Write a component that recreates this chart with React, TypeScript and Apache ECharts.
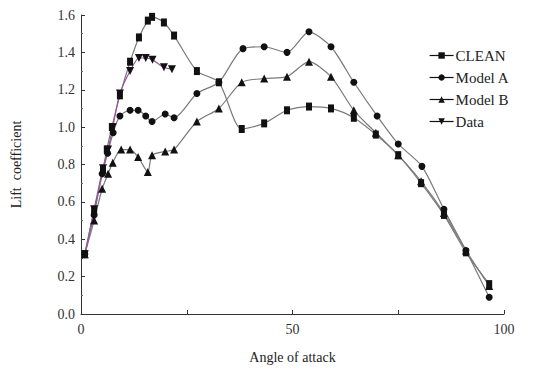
import React, { useEffect, useRef } from "react";
import * as echarts from "echarts";

const seriesNames = ["CLEAN", "Model A", "Model B", "Data"];

const cleanData: [number, number][] = [
  [0.9, 0.32], [3.1, 0.55], [5.2, 0.77], [6.1, 0.88], [7.3, 1.0], [9.2, 1.17],
  [11.6, 1.35], [13.7, 1.48], [15.8, 1.57], [16.8, 1.59], [19.6, 1.56], [22, 1.49],
  [27.4, 1.3], [32.6, 1.24], [38, 0.99], [43.3, 1.02], [48.7, 1.09], [53.9, 1.11],
  [59.1, 1.1], [64.5, 1.05], [69.7, 0.96], [75, 0.85], [80.4, 0.7], [85.8, 0.53],
  [91, 0.33], [96.5, 0.16],
];

const modelAData: [number, number][] = [
  [0.9, 0.32], [3.1, 0.53], [5, 0.75], [6.3, 0.86], [7.6, 0.97], [9.2, 1.06],
  [11.6, 1.09], [13.5, 1.09], [15.3, 1.06], [16.8, 1.03], [19.9, 1.07], [22, 1.05],
  [27.4, 1.18], [32.6, 1.24], [38.3, 1.42], [43.3, 1.43], [48.7, 1.4], [53.9, 1.51],
  [59.1, 1.43], [64.5, 1.24], [70, 1.06], [75, 0.91], [80.6, 0.79], [85.8, 0.56],
  [91, 0.34], [96.5, 0.09],
];

const modelBData: [number, number][] = [
  [0.9, 0.32], [3.1, 0.5], [5, 0.67], [6.4, 0.75], [7.5, 0.81], [9.5, 0.88],
  [11.6, 0.88], [13.5, 0.84], [15.8, 0.76], [16.8, 0.85], [19.9, 0.87], [22, 0.88],
  [27.4, 1.03], [32.6, 1.1], [38, 1.24], [43.3, 1.26], [48.7, 1.27], [53.9, 1.35],
  [59.1, 1.27], [64.5, 1.09], [69.7, 0.97], [75, 0.85], [80.4, 0.71], [85.8, 0.54],
  [91, 0.34], [96.5, 0.15],
];

const testData: [number, number][] = [
  [0.9, 0.32], [3.1, 0.56], [5.2, 0.78], [6.4, 0.88], [7.5, 1.0], [9.2, 1.18],
  [11.6, 1.3], [13.7, 1.37], [15.3, 1.37], [16.9, 1.36], [19.6, 1.32], [21.5, 1.31],
];

const xTickLabels = ["0", "50", "100"];

export default function App() {
  const ref = useRef<HTMLDivElement>(null);
  useEffect(() => {
    if (!ref.current) return;
    const chart = echarts.init(ref.current, null, { renderer: "svg" });
    const font = "'Liberation Serif', 'DejaVu Serif', serif";
    const lineGrey = "#7a7a7a";
    const mk = (name: string, data: [number, number][], symbol: string, size: number | number[], rotate = 0, lineColor = lineGrey) => ({
      name,
      type: "line",
      data,
      smooth: 0.25,
      symbol,
      symbolSize: size,
      symbolRotate: rotate,
      showSymbol: true,
      itemStyle: { color: "#111" },
      lineStyle: { color: lineColor, width: 1.2 },
      z: 3,
    });
    chart.setOption({
      animation: false,
      backgroundColor: "#fff",
      textStyle: { fontFamily: font },
      grid: { left: 81, right: 50, top: 15, bottom: 60, containLabel: false },
      legend: {
        orient: "vertical",
        left: 424,
        top: 43,
        itemWidth: 24,
        itemHeight: 8,
        itemGap: 7,
        data: seriesNames,
        lineStyle: { color: "#111", width: 1.2 },
        itemStyle: { color: "#111" },
        textStyle: { fontFamily: font, fontSize: 15, color: "#222", padding: [0, 0, 0, -3] },
      },
      xAxis: {
        type: "value",
        min: 0,
        max: 100,
        interval: 25,
        name: "Angle of attack",
        nameLocation: "middle",
        nameGap: 36,
        nameTextStyle: { fontFamily: font, fontSize: 14, color: "#222" },
        axisLine: { show: true, lineStyle: { color: "#333", width: 1 } },
        axisTick: { show: true, inside: true, length: 4, lineStyle: { color: "#333" } },
        axisLabel: {
          fontFamily: font,
          fontSize: 14,
          color: "#333",
          margin: 8,
          formatter: (v: number) => (xTickLabels.includes(String(v)) ? String(v) : ""),
        },
        splitLine: { show: false },
      },
      yAxis: {
        type: "value",
        min: 0,
        max: 1.6,
        interval: 0.2,
        name: "Lift  coefficient",
        nameLocation: "middle",
        nameGap: 58,
        nameTextStyle: { fontFamily: font, fontSize: 14, color: "#222" },
        axisLine: { show: true, lineStyle: { color: "#333", width: 1 } },
        axisTick: { show: true, inside: true, length: 4, lineStyle: { color: "#333" } },
        minorTick: { show: true, splitNumber: 2, length: 2, lineStyle: { color: "#666" } },
        axisLabel: {
          fontFamily: font,
          fontSize: 14,
          color: "#333",
          margin: 6,
          formatter: (v: number) => v.toFixed(1),
        },
        splitLine: { show: false },
      },
      series: [
        mk("CLEAN", cleanData, "rect", [6, 8]),
        mk("Model A", modelAData, "circle", 7),
        mk("Model B", modelBData, "triangle", 8),
        mk("Data", testData, "triangle", 8, 180, "#a050a8"),
      ],
    });
    return () => chart.dispose();
  }, []);
  return <div ref={ref} style={{ width: 554, height: 374, position: "absolute", left: 0, top: 0 }} />;
}
